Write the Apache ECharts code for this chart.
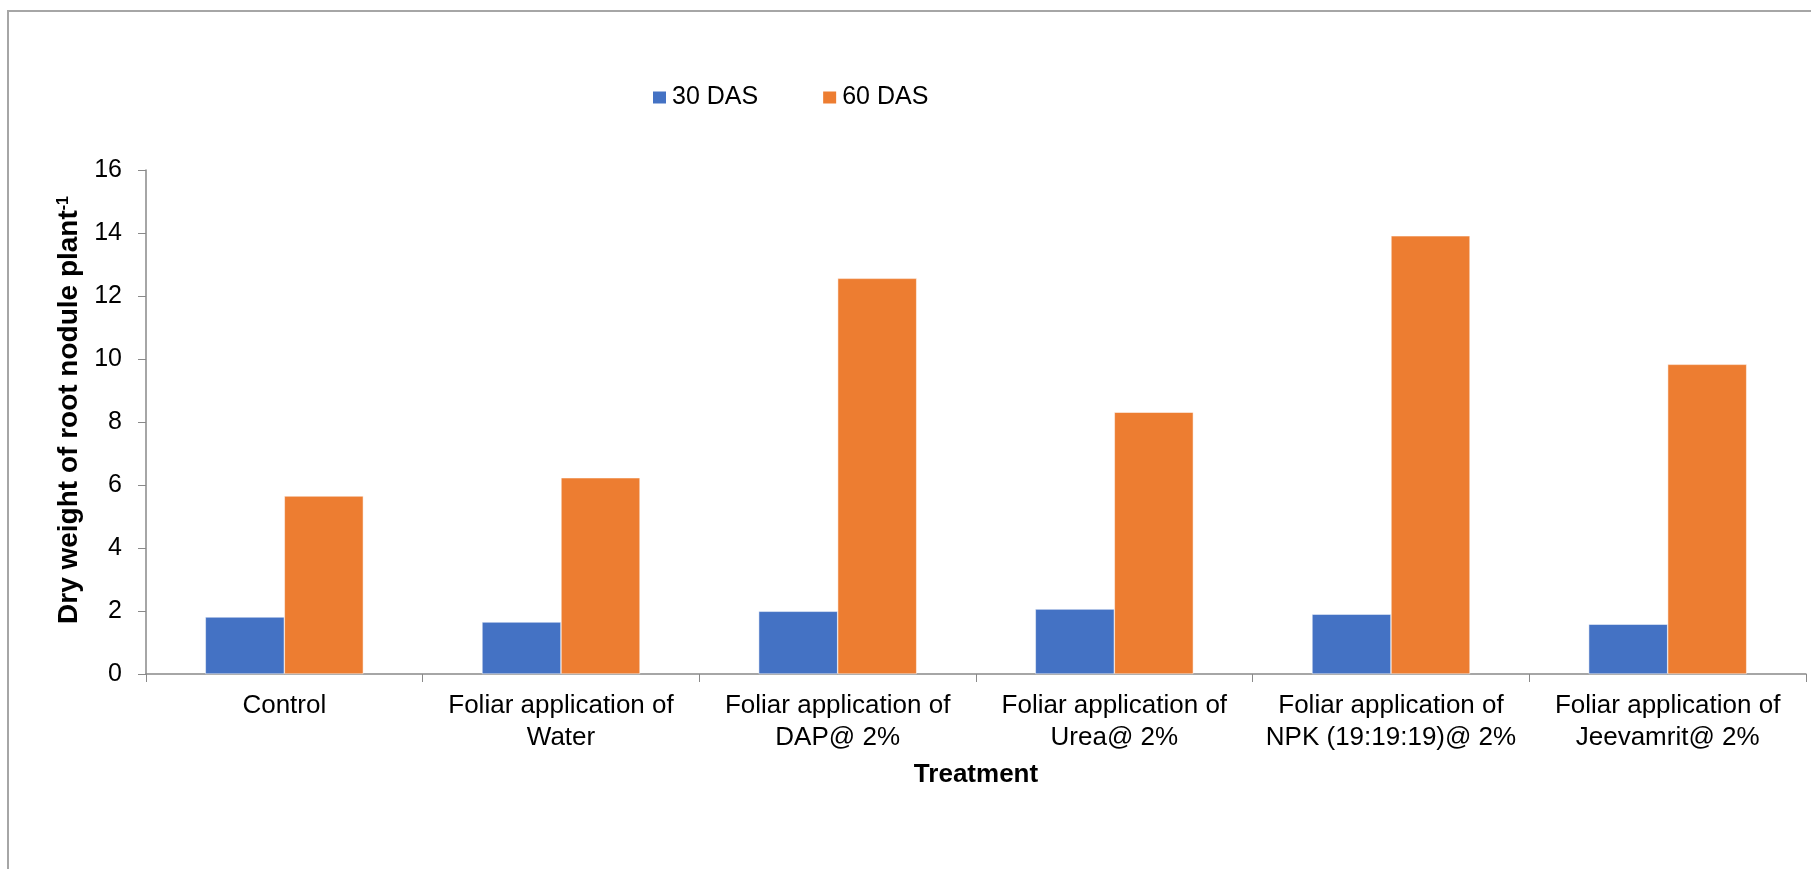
<!DOCTYPE html>
<html>
<head>
<meta charset="utf-8">
<script src="https://cdn.jsdelivr.net/npm/echarts@6/dist/echarts.min.js"></script>
<style>
html,body{margin:0;padding:0;background:#fff;}
#chart{width:1811px;height:869px;}
</style>
</head>
<body>
<div id="chart"></div>
<script>
const categories = [
  'Control',
  'Foliar application of\nWater',
  'Foliar application of\nDAP@ 2%',
  'Foliar application of\nUrea@ 2%',
  'Foliar application of\nNPK (19:19:19)@ 2%',
  'Foliar application of\nJeevamrit@ 2%'
];
const seriesNames = ['30 DAS', '60 DAS'];
const das30 = [1.81, 1.65, 1.99, 2.06, 1.90, 1.58];
const das60 = [5.65, 6.23, 12.56, 8.31, 13.91, 9.83];
const yTicks = { min: 0, max: 16, interval: 2 };

const FONT = '"Liberation Sans", Arial, sans-serif';
const chart = echarts.init(document.getElementById('chart'), null, { renderer: 'canvas' });
chart.setOption({
  backgroundColor: '#ffffff',
  animation: false,
  graphic: [{
    type: 'rect',
    shape: { x: 8, y: 11, width: 1850, height: 900 },
    style: { fill: 'none', stroke: '#a6a6a6', lineWidth: 2 },
    silent: true
  }],
  legend: {
    data: seriesNames,
    left: 646,
    top: 80,
    itemWidth: 15,
    itemHeight: 14,
    itemGap: 63,
    icon: 'rect',
    textStyle: { fontFamily: FONT, fontSize: 25, color: '#000' }
  },
  grid: { left: 146, right: 5, top: 170, bottom: 195, containLabel: false },
  xAxis: {
    type: 'category',
    data: categories,
    name: 'Treatment',
    nameLocation: 'middle',
    nameGap: 88,
    nameTextStyle: { fontFamily: FONT, fontSize: 26, fontWeight: 'bold', color: '#000' },
    axisLine: { lineStyle: { color: '#898989', width: 1.5 } },
    axisTick: { show: true, length: 8, lineStyle: { color: '#898989' } },
    axisLabel: { interval: 0, fontFamily: FONT, fontSize: 26, color: '#000', margin: 16, lineHeight: 32 }
  },
  yAxis: {
    type: 'value',
    min: yTicks.min,
    max: yTicks.max,
    interval: yTicks.interval,
    name: 'Dry weight of root nodule plant{sup|-1}',
    nameLocation: 'middle',
    nameGap: 60,
    nameRotate: 90,
    nameTextStyle: {
      fontFamily: FONT, fontSize: 28, fontWeight: 'bold', color: '#000',
      padding: [0, 0, 0, 24],
      rich: { sup: { fontFamily: FONT, fontSize: 16, fontWeight: 'bold', color: '#000', verticalAlign: 'top', padding: [0, 0, 12, 0] } }
    },
    splitLine: { show: false },
    axisLine: { show: true, lineStyle: { color: '#898989', width: 1.5 } },
    axisTick: { show: true, length: 8, lineStyle: { color: '#898989' } },
    axisLabel: { fontFamily: FONT, fontSize: 25, color: '#000', margin: 24 }
  },
  series: [
    { name: seriesNames[0], type: 'bar', data: das30, barWidth: 79, barGap: '0%',
      itemStyle: { color: '#4472C4', borderColor: '#ffffff', borderWidth: 0.5 } },
    { name: seriesNames[1], type: 'bar', data: das60, barWidth: 79, barGap: '0%',
      itemStyle: { color: '#ED7D31', borderColor: '#ffffff', borderWidth: 0.5 } }
  ]
});
</script>
</body>
</html>
